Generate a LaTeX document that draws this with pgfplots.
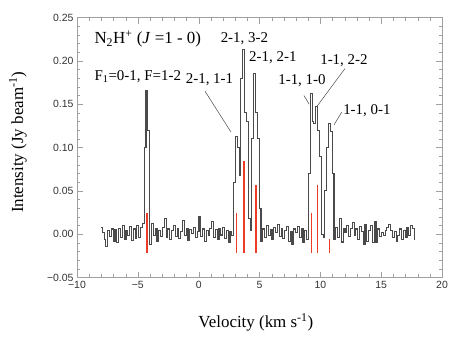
\documentclass[border=0pt]{standalone}
\usepackage{fontspec}
\setmainfont{Liberation Serif}
\newfontfamily\ticksf{Liberation Sans}
\usepackage{pgfplots}
\usepackage{pgfplotstable}
\pgfplotsset{compat=1.18}
\usetikzlibrary{calc}
\definecolor{spec}{HTML}{4A4A4A}
\definecolor{axgray}{HTML}{A0A0A0}
\definecolor{hfs}{HTML}{EB3C28}

% N2H+ (1-0) spectrum, 0.15 km/s channels
\pgfplotstableread{
v I
-8.00 0.008
-7.85 0.002
-7.70 -0.006
-7.55 -0.014
-7.40 0.004
-7.25 -0.003
-7.10 0.006
-6.95 -0.008
-6.80 0.005
-6.65 -0.010
-6.50 0.007
-6.35 -0.004
-6.20 0.010
-6.05 -0.006
-5.90 0.004
-5.75 -0.002
-5.60 0.009
-5.45 -0.007
-5.30 0.006
-5.15 -0.005
-5.00 0.010
-4.85 -0.004
-4.70 0.008
-4.55 0.012
-4.40 0.100
-4.25 0.166
-4.10 0.120
-3.95 -0.012
-3.80 0.012
-3.65 -0.002
-3.50 0.006
-3.35 -0.008
-3.20 0.004
-3.05 -0.003
-2.90 0.008
-2.75 0.018
-2.60 -0.004
-2.45 0.006
-2.30 -0.006
-2.15 0.004
-2.00 0.010
-1.85 -0.003
-1.70 0.007
-1.55 -0.005
-1.40 0.003
-1.25 0.016
-1.10 -0.002
-0.95 0.006
-0.80 -0.007
-0.65 0.005
-0.50 0.001
-0.35 0.008
-0.20 -0.004
-0.05 0.003
0.10 0.020
0.25 -0.003
0.40 0.006
0.55 -0.008
0.70 0.004
0.85 -0.002
1.00 0.007
1.15 0.015
1.30 -0.004
1.45 0.005
1.60 -0.006
1.75 0.006
1.90 -0.001
2.05 0.008
2.20 -0.005
2.35 0.004
2.50 -0.010
2.65 0.003
2.80 -0.002
2.95 0.060
3.10 0.113
3.25 0.100
3.40 0.068
3.55 0.180
3.70 0.213
3.85 0.140
4.00 0.130
4.15 0.018
4.30 0.004
4.45 0.110
4.60 0.185
4.75 0.140
4.90 0.110
5.05 0.030
5.20 -0.008
5.35 0.006
5.50 -0.004
5.65 0.010
5.80 -0.002
5.95 0.005
6.10 -0.006
6.25 0.008
6.40 0.002
6.55 0.011
6.70 -0.003
6.85 0.007
7.00 -0.005
7.15 0.004
7.30 0.009
7.45 -0.008
7.60 0.003
7.75 -0.012
7.90 0.006
8.05 0.002
8.20 0.009
8.35 -0.004
8.50 0.007
8.65 -0.010
8.80 0.004
8.95 -0.006
9.10 0.070
9.25 0.162
9.40 0.130
9.55 0.128
9.70 0.147
9.85 0.120
10.00 0.090
10.15 0.000
10.30 -0.004
10.45 0.050
10.60 0.100
10.75 0.128
10.90 0.118
11.05 0.070
11.20 -0.006
11.35 0.008
11.50 -0.004
11.65 0.018
11.80 -0.009
11.95 0.006
12.10 0.002
12.25 0.010
12.40 -0.003
12.55 0.007
12.70 0.013
12.85 -0.002
13.00 0.006
13.15 -0.006
13.30 0.009
13.45 0.003
13.60 -0.012
13.75 0.011
13.90 -0.008
14.05 0.004
14.20 0.010
14.35 -0.010
14.50 0.014
14.65 -0.010
14.80 0.006
14.95 -0.003
15.10 0.002
15.25 -0.002
15.40 0.004
15.55 0.008
15.70 0.011
15.85 0.004
16.00 -0.004
16.15 0.003
16.30 -0.008
16.45 -0.002
16.60 0.006
16.75 -0.006
16.90 0.004
17.05 -0.004
17.20 0.008
17.35 -0.002
17.50 0.010
17.65 0.007
17.80 -0.006
}\spectrum

\begin{document}
\begin{tikzpicture}
\begin{axis}[
  scale only axis, width=365bp, height=260bp,
  xmin=-10, xmax=20, ymin=-0.05, ymax=0.25,
  xtick={-10,-5,0,5,10,15,20},
  xticklabels={−10,−5,0,5,10,15,20},
  ytick={-0.05,0,0.05,0.10,0.15,0.20,0.25},
  yticklabels={−0.05,0.00,0.05,0.10,0.15,0.20,0.25},
  minor x tick num=4, minor y tick num=4,
  axis line style={axgray}, tick style={axgray},
  major tick length=6bp, minor tick length=3.5bp,
  tick label style={font=\ticksf\fontsize{10.5}{12}\selectfont, text=black!80},
  xlabel={Velocity (km s\textsuperscript{-1})},
  ylabel={Intensity (Jy beam\textsuperscript{-1})},
  label style={font=\fontsize{17}{20}\selectfont},
  xlabel style={at={(axis description cs:0.49,-0.173)}, anchor=center},
  ylabel style={at={(axis description cs:-0.162,0.52)}, anchor=center},
]
\addplot[spec, line width=1.1bp, const plot mark mid] table[x=v, y=I] {\spectrum};

% hyperfine components
\addplot[hfs, line width=1.4bp] coordinates {(-4.25,-0.022) (-4.25,0.024)};
\addplot[hfs, line width=1.4bp] coordinates {(3.13,-0.022) (3.13,0.024)};
\addplot[hfs, line width=1.4bp] coordinates {(3.72,-0.022) (3.72,0.085)};
\addplot[hfs, line width=1.4bp] coordinates {(4.70,-0.022) (4.70,0.057)};
\addplot[hfs, line width=1.4bp] coordinates {(9.27,-0.022) (9.27,0.024)};
\addplot[hfs, line width=1.4bp] coordinates {(9.75,-0.022) (9.75,0.057)};
\addplot[hfs, line width=1.4bp] coordinates {(10.73,-0.022) (10.73,-0.006)};

% leader lines
\addplot[spec, line width=0.5bp] coordinates {(0.52,0.165) (2.65,0.118)};
\addplot[spec, line width=0.5bp] coordinates {(8.65,0.160) (9.08,0.150)};
\addplot[spec, line width=0.5bp] coordinates {(12.02,0.191) (9.75,0.148)};
\addplot[spec, line width=0.5bp] coordinates {(11.77,0.141) (11.12,0.126)};

\node[anchor=west, font=\fontsize{17}{20}\selectfont] at (axis cs:-8.85,0.225)
  {N\textsubscript{2}H\textsuperscript{+} (\textit{J} =1 - 0)};
\node[anchor=west, font=\fontsize{15}{18}\selectfont] at (axis cs:-8.85,0.182)
  {F\textsubscript{1}=0-1, F=1-2};
\node[font=\fontsize{15}{18}\selectfont] at (axis cs:3.76,0.226) {2-1, 3-2};
\node[font=\fontsize{15}{18}\selectfont] at (axis cs:6.10,0.204) {2-1, 2-1};
\node[font=\fontsize{15}{18}\selectfont] at (axis cs:0.89,0.178) {2-1, 1-1};
\node[font=\fontsize{15}{18}\selectfont] at (axis cs:8.49,0.177) {1-1, 1-0};
\node[font=\fontsize{15}{18}\selectfont] at (axis cs:11.94,0.200) {1-1, 2-2};
\node[font=\fontsize{15}{18}\selectfont] at (axis cs:13.83,0.143) {1-1, 0-1};

\coordinate (ll) at (rel axis cs:0,0);
\coordinate (ur) at (rel axis cs:1,1);
\end{axis}
\pgfresetboundingbox
\path ($(ll)+(-77bp,-63bp)$) rectangle ($(ur)+(21bp,17.5bp)$);
\end{tikzpicture}
\end{document}
